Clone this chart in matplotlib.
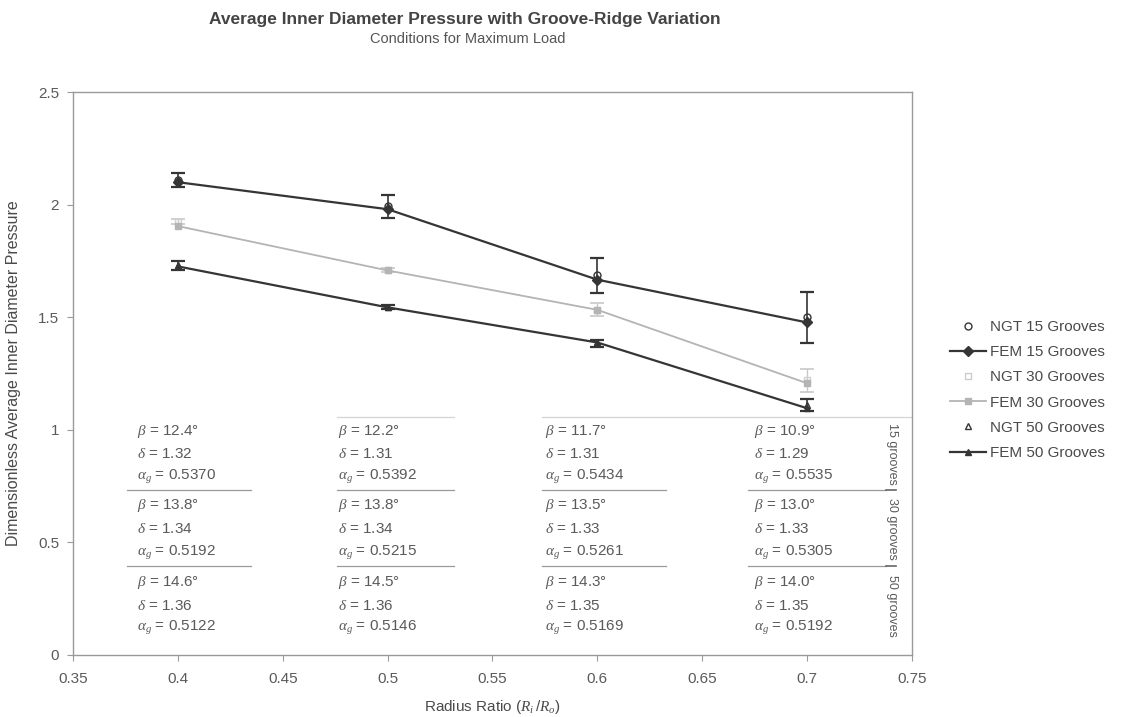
import numpy as np
import matplotlib.pyplot as plt
from matplotlib.lines import Line2D

plt.rcParams['font.family'] = ['Liberation Sans', 'DejaVu Sans']
plt.rcParams['mathtext.fontset'] = 'custom'
plt.rcParams['mathtext.it'] = 'Liberation Serif:italic'
plt.rcParams['mathtext.rm'] = 'Liberation Sans'

# radius ratio
x = [0.4, 0.5, 0.6, 0.7]

# FEM results
fem15 = [2.10, 1.98, 1.667, 1.477]
fem30 = [1.905, 1.708, 1.533, 1.207]
fem50 = [1.726, 1.544, 1.388, 1.096]

# NGT results with error bars
ngt15 = [2.11, 1.993, 1.686, 1.50]
ngt15_err = [0.03, 0.05, 0.077, 0.113]
ngt30 = [1.925, 1.71, 1.534, 1.22]
ngt30_err = [0.01, 0.01, 0.03, 0.05]
ngt50 = [1.73, 1.545, 1.385, 1.11]
ngt50_err = [0.02, 0.01, 0.015, 0.025]

# geometry table per column (15 / 30 / 50 grooves)
beta15 = ['12.4', '12.2', '11.7', '10.9']
delta15 = ['1.32', '1.31', '1.31', '1.29']
alpha15 = ['0.5370', '0.5392', '0.5434', '0.5535']
beta30 = ['13.8', '13.8', '13.5', '13.0']
delta30 = ['1.34', '1.34', '1.33', '1.33']
alpha30 = ['0.5192', '0.5215', '0.5261', '0.5305']
beta50 = ['14.6', '14.5', '14.3', '14.0']
delta50 = ['1.36', '1.36', '1.35', '1.35']
alpha50 = ['0.5122', '0.5146', '0.5169', '0.5192']

dark = '#353535'
light = '#b4b4b4'
txt = '#5a5a5a'

fig = plt.figure(figsize=(11.21, 7.17), dpi=100)
ax = fig.add_axes([0.0651, 0.0865, 0.7484, 0.785])

ax.errorbar(x, ngt15, yerr=ngt15_err, fmt='o', mfc='none', mec=dark, ms=5,
            ecolor=dark, capsize=5, elinewidth=1.2, capthick=1.6, zorder=3)
ax.plot(x, fem15, '-D', color=dark, ms=5, lw=1.6, zorder=4)
ax.errorbar(x, ngt30, yerr=ngt30_err, fmt='s', mfc='none', mec='#d0d0d0', ms=5,
            ecolor='#c8c8c8', capsize=5, elinewidth=1.0, capthick=1.2, zorder=3)
ax.plot(x, fem30, '-s', color=light, ms=5, lw=1.3, zorder=4)
ax.errorbar(x, ngt50, yerr=ngt50_err, fmt='^', mfc='none', mec=dark, ms=5,
            ecolor=dark, capsize=5, elinewidth=1.2, capthick=1.6, zorder=3)
ax.plot(x, fem50, '-^', color=dark, ms=5, lw=1.6, zorder=4)

ax.set_xlim(0.35, 0.75)
ax.set_ylim(0, 2.5)
ax.set_xticks(np.arange(0.35, 0.751, 0.05))
ax.set_xticklabels(['0.35', '0.4', '0.45', '0.5', '0.55', '0.6', '0.65', '0.7', '0.75'])
ax.set_yticks([0, 0.5, 1, 1.5, 2, 2.5])
ax.set_yticklabels(['0', '0.5', '1', '1.5', '2', '2.5'])
ax.tick_params(colors='#9a9a9a', labelcolor=txt, labelsize=11, length=4, width=0.8)
ax.tick_params(axis='x', pad=8)
ax.tick_params(axis='y', pad=6)
for s in ax.spines.values():
    s.set_color('#9a9a9a')
    s.set_linewidth(1.0)

ax.set_xlabel(r'Radius Ratio ($R_i\,/R_o$)', fontsize=11, color='#4a4a4a', labelpad=9)
ax.set_ylabel('Dimensionless Average Inner Diameter Pressure', fontsize=11.5, color='#4a4a4a', labelpad=12)

fig.text(0.415, 0.973, 'Average Inner Diameter Pressure with Groove-Ridge Variation',
         ha='center', va='center', fontsize=12.5, fontweight='bold', color='#444444')
fig.text(0.417, 0.946, 'Conditions for Maximum Load', ha='center', va='center',
         fontsize=10.5, color='#555555')

# geometry table inside the plot
col_x = [0.3805, 0.4763, 0.5751, 0.6746]
sep = [(0.3757, 0.4349), (0.4758, 0.5316), (0.5735, 0.6327), (0.6717, 0.7375)]
groups = [(beta15, delta15, alpha15, [0.991, 0.893, 0.791]),
          (beta30, delta30, alpha30, [0.662, 0.560, 0.453]),
          (beta50, delta50, alpha50, [0.320, 0.218, 0.120])]
for i in range(4):
    for b, d, a, ys in groups:
        ax.text(col_x[i], ys[0], r'$\beta$ = ' + b[i] + '°', fontsize=11, color=txt, va='center')
        ax.text(col_x[i], ys[1], r'$\delta$ = ' + d[i], fontsize=11, color=txt, va='center')
        ax.text(col_x[i], ys[2], r'$\alpha_{g}$ = ' + a[i], fontsize=11, color=txt, va='center')
    for yl in [0.733, 0.396]:
        ax.plot(sep[i], [yl, yl], color='#9a9a9a', lw=0.9)
ax.plot([0.4758, 0.5316], [1.058, 1.058], color='#d4d4d4', lw=0.9)
ax.plot([0.5735, 0.75], [1.058, 1.058], color='#d4d4d4', lw=0.9)

# group labels on the right of the table
for lab, yc in [('15 grooves', 0.893), ('30 grooves', 0.560), ('50 grooves', 0.22)]:
    ax.text(0.7405, yc, lab, rotation=-90, fontsize=9, color=txt, ha='center', va='center')
for yl in [0.733, 0.396]:
    ax.plot([0.7375, 0.7425], [yl, yl], color='#666666', lw=1.2)

handles = [
    Line2D([], [], ls='none', marker='o', mfc='none', mec=dark, ms=5),
    Line2D([], [], color=dark, marker='D', ms=5, lw=1.6),
    Line2D([], [], ls='none', marker='s', mfc='none', mec='#cccccc', ms=5),
    Line2D([], [], color=light, marker='s', ms=5, lw=1.3),
    Line2D([], [], ls='none', marker='^', mfc='none', mec=dark, ms=5),
    Line2D([], [], color=dark, marker='^', ms=5, lw=1.6),
]
labels = ['NGT 15 Grooves', 'FEM 15 Grooves', 'NGT 30 Grooves',
          'FEM 30 Grooves', 'NGT 50 Grooves', 'FEM 50 Grooves']
leg = ax.legend(handles, labels, loc='center left', bbox_to_anchor=(0.835, 0.456),
                bbox_transform=fig.transFigure, frameon=False, fontsize=11,
                handlelength=2.4, labelspacing=0.73, handletextpad=0.25)
for t in leg.get_texts():
    t.set_color('#4a4a4a')

fig.savefig('out.png', dpi=100, facecolor='white')
